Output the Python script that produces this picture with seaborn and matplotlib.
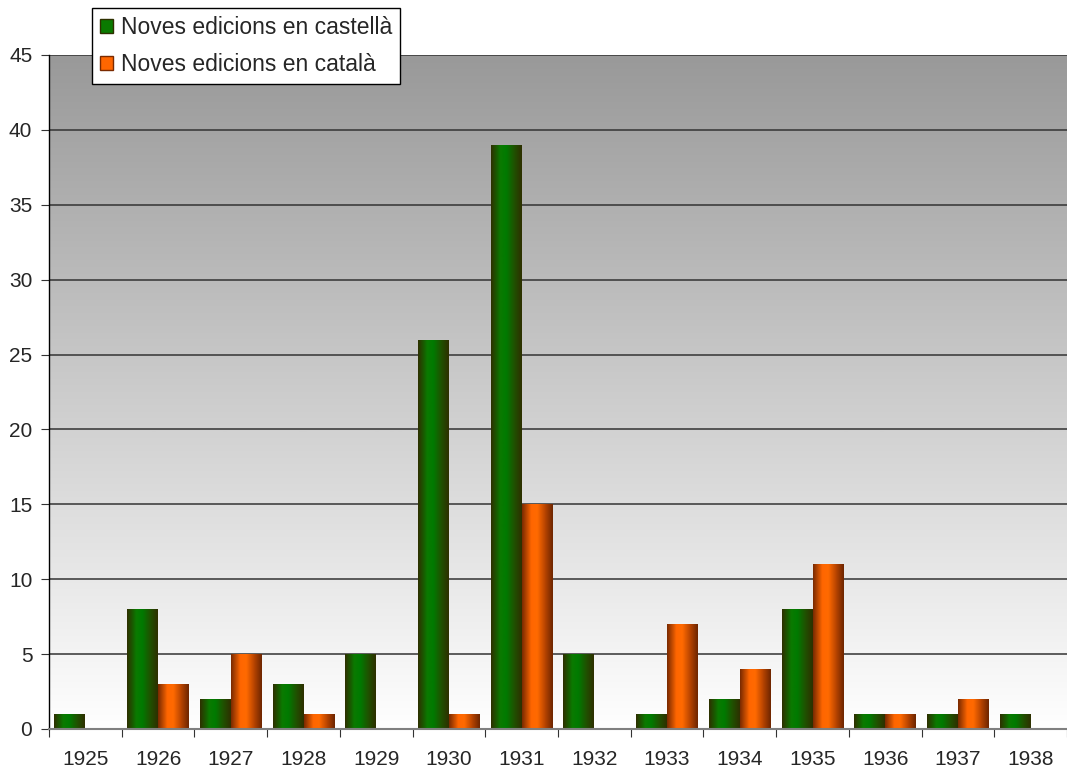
import numpy as np
import pandas as pd
import matplotlib
matplotlib.use("Agg")
import matplotlib.pyplot as plt
import seaborn as sns
from matplotlib.colors import LinearSegmentedColormap
from matplotlib.patches import Patch

# Data
years = ["1925", "1926", "1927", "1928", "1929", "1930", "1931",
         "1932", "1933", "1934", "1935", "1936", "1937", "1938"]
castella = [1, 8, 2, 3, 5, 26, 39, 5, 1, 2, 8, 1, 1, 1]
catala = [0, 3, 5, 1, 0, 1, 15, 0, 7, 4, 11, 1, 2, 0]
series_names = ["Noves edicions en castellà", "Noves edicions en català"]

df = pd.DataFrame({
    "year": years * 2,
    "value": castella + catala,
    "serie": [series_names[0]] * len(years) + [series_names[1]] * len(years),
})

sns.set_style("white")
plt.rcParams["font.family"] = ["Liberation Sans", "DejaVu Sans"]

fig = plt.figure(figsize=(10.67, 7.69), dpi=100)
ax = fig.add_axes([49 / 1067, 1 - 729 / 769, (1067 - 49) / 1067, (729 - 55) / 769])

sns.barplot(data=df, x="year", y="value", hue="serie", order=years,
            hue_order=series_names, width=0.85, ax=ax, legend=False,
            palette=["#0a7a00", "#ff6600"], saturation=1)

ax.set_xlim(-0.5, len(years) - 0.5)
ax.set_ylim(0, 45)

# background gradient: grey at top, white at bottom
bg = np.linspace(1.0, 0.0, 256).reshape(-1, 1)
bg_cmap = LinearSegmentedColormap.from_list("bg", ["#999999", "#ffffff"])
ax.imshow(bg, cmap=bg_cmap, aspect="auto", extent=[-0.5, len(years) - 0.5, 45, 0],
          zorder=0, interpolation="bicubic")

# grid lines
for yv in range(5, 50, 5):
    ax.axhline(yv, color="#333333", lw=1.1, zorder=1)

# cylinder-like horizontal gradient on the bars
green_cmap = LinearSegmentedColormap.from_list(
    "g", [(0.0, "#2e3000"), (0.3, "#0a7a00"), (0.5, "#007a00"), (0.75, "#1f5200"), (1.0, "#2e3000")])
orange_cmap = LinearSegmentedColormap.from_list(
    "o", [(0.0, "#7a2a00"), (0.3, "#ff6600"), (0.5, "#ff6a00"), (0.75, "#b84400"), (1.0, "#6e2600")])
grad = np.linspace(0, 1, 64).reshape(1, -1)
n = len(years)
for i, bar in enumerate(ax.patches):
    h = bar.get_height()
    if h <= 0:
        bar.set_visible(False)
        continue
    x0 = bar.get_x()
    w = bar.get_width()
    cmap = green_cmap if i < n else orange_cmap
    bar.set_facecolor("none")
    bar.set_edgecolor("none")
    im = ax.imshow(grad, cmap=cmap, aspect="auto", extent=[x0, x0 + w, 0, h],
                   zorder=2, interpolation="bilinear")
    im.set_clip_path(bar)

ax.set_xlim(-0.5, len(years) - 0.5)
ax.set_ylim(0, 45)

# axes styling
ax.set_xlabel("")
ax.set_ylabel("")
for s in ["top", "right"]:
    ax.spines[s].set_visible(False)
ax.spines["left"].set_color("black")
ax.spines["left"].set_linewidth(1.0)
ax.spines["bottom"].set_color("#808080")
ax.spines["bottom"].set_linewidth(1.5)

ax.set_yticks(range(0, 50, 5))
ax.tick_params(axis="y", labelsize=15, length=6, direction="out", left=True,
               color="#333333", pad=6)
ax.set_xticks(np.arange(-0.5, len(years), 1.0))
ax.set_xticklabels([])
ax.set_xticks(np.arange(len(years)), minor=True)
ax.set_xticklabels(years, minor=True)
ax.tick_params(axis="x", which="major", length=6, direction="out", bottom=True, color="#333333")
ax.tick_params(axis="x", which="minor", length=0, labelsize=15, pad=15)

# legend box
handles = [Patch(facecolor="#0a7a00", edgecolor="#2e3000"),
           Patch(facecolor="#ff6600", edgecolor="#7a2a00")]
leg = fig.legend(handles, series_names, loc="upper left",
                 bbox_to_anchor=(92 / 1067, 1 - 8 / 769), fontsize=16.5,
                 frameon=True, fancybox=False, handlelength=0.55, handleheight=0.55,
                 handletextpad=0.35, borderpad=0.35, labelspacing=0.6, borderaxespad=0)
leg.get_frame().set_edgecolor("black")
leg.get_frame().set_linewidth(1.0)
leg.get_frame().set_facecolor("white")
leg.get_frame().set_alpha(1)

fig.savefig("out.png", dpi=100)
